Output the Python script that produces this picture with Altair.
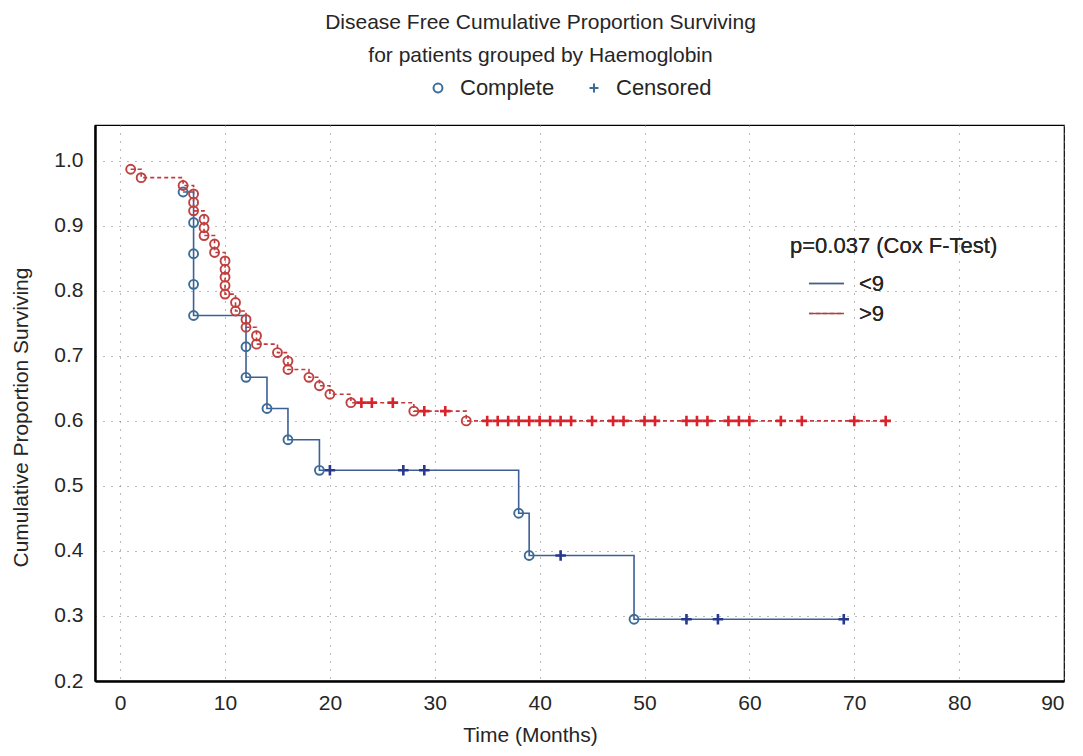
import pandas as pd
import altair as alt

# Survival values (Kaplan-Meier, disease free)
# >9 group: complete (event) times and proportion surviving after each event
HI_EVENT_T = [1, 2, 6, 7, 7, 7, 8, 8, 8, 9, 9, 10, 10, 10, 10, 10, 11, 11,
              12, 12, 13, 13, 15, 16, 16, 18, 19, 20, 22, 28, 33]
HI_EVENT_S = [0.987, 0.974, 0.962, 0.949, 0.936, 0.923, 0.910, 0.897, 0.885,
              0.872, 0.859, 0.846, 0.833, 0.821, 0.808, 0.795, 0.782, 0.769,
              0.756, 0.744, 0.731, 0.718, 0.705, 0.692, 0.679, 0.667, 0.654,
              0.641, 0.628, 0.615, 0.600]
# >9 group: censored times
HI_CENS_T = [23, 24, 26, 29, 31, 35, 36, 37, 38, 39, 40, 41, 42, 43, 45, 47,
             48, 50, 51, 54, 55, 56, 58, 59, 60, 63, 65, 70, 73]
HI_CENS_S = [0.628, 0.628, 0.628, 0.615, 0.615] + [0.600] * 24

# <9 group
LO_EVENT_T = [6, 7, 7, 7, 7, 12, 12, 14, 16, 19, 38, 39, 49]
LO_EVENT_S = [0.952, 0.905, 0.857, 0.810, 0.762, 0.714, 0.667, 0.619, 0.571,
              0.524, 0.458, 0.393, 0.295]
LO_CENS_T = [20, 27, 29, 42, 54, 57, 69]
LO_CENS_S = [0.524, 0.524, 0.524, 0.393, 0.295, 0.295, 0.295]

GROUPS = ['<9', '>9']
X_TICKS = [0, 10, 20, 30, 40, 50, 60, 70, 80, 90]
Y_TICKS = [0.2, 0.3, 0.4, 0.5, 0.6, 0.7, 0.8, 0.9, 1.0]

BLUE_LINE = '#3d5f96'
RED_LINE = '#c4393c'
MARK_COLORS = {
    '<9 Complete': '#3b6c98',
    '<9 Censored': '#26398c',
    '>9 Complete': '#c0403f',
    '>9 Censored': '#d8232b',
}
PLUS = 'M-1,0H1M0,-1V1'
FONT = 'Liberation Sans'
TEXT = '#262626'


def build_frame():
    """Stack events and censored points of both groups in one table."""
    parts = []
    for grp, et, es, ct, cs in [('<9', LO_EVENT_T, LO_EVENT_S, LO_CENS_T, LO_CENS_S),
                                ('>9', HI_EVENT_T, HI_EVENT_S, HI_CENS_T, HI_CENS_S)]:
        ev = pd.DataFrame({'time': et, 'surv': es, 'status': 'Complete'})
        ce = pd.DataFrame({'time': ct, 'surv': cs, 'status': 'Censored'})
        d = pd.concat([ev, ce]).sort_values(['time', 'surv'], ascending=[True, False])
        d['group'] = grp
        d['seq'] = range(len(d))
        parts.append(d)
    df = pd.concat(parts, ignore_index=True)
    df['key'] = df['group'] + ' ' + df['status']
    return df


df = build_frame()

x_enc = alt.X('time:Q', title='Time (Months)',
              scale=alt.Scale(domain=[-2.4, 90], nice=False, zero=False),
              axis=alt.Axis(values=X_TICKS, labelPadding=11, titleX=435, titleY=54,
                            titleBaseline='middle'))
y_enc = alt.Y('surv:Q', title='Cumulative Proportion Surviving',
              scale=alt.Scale(domain=[0.2, 1.055], nice=False, zero=False),
              axis=alt.Axis(values=Y_TICKS, format='.1f', labelPadding=12,
                            titleX=-74, titleY=292, titleBaseline='middle'))

group_legend = alt.Legend(title='p=0.037 (Cox F-Test)', orient='none',
                          legendX=695, legendY=111, symbolType='stroke',
                          symbolSize=1225, symbolStrokeWidth=1.6, symbolOffset=18,
                          labelOffset=14, rowPadding=-2, titlePadding=7,
                          titleLimit=400, titleFontSize=22, labelFontSize=22,
                          padding=0)

lines = alt.Chart(df).mark_line(interpolate='step-after', strokeWidth=1.6).encode(
    x=x_enc,
    y=y_enc,
    order='seq:Q',
    color=alt.Color('group:N', scale=alt.Scale(domain=GROUPS, range=[BLUE_LINE, RED_LINE]),
                    legend=group_legend),
    strokeDash=alt.StrokeDash('group:N', scale=alt.Scale(domain=GROUPS, range=[[1, 0], [4, 3]]),
                              legend=group_legend),
)

shape_legend = alt.Legend(title=None, orient='none', direction='horizontal',
                          legendX=332, legendY=-48, symbolSize=80,
                          symbolStrokeColor='#3b6c98', symbolStrokeWidth=2,
                          symbolFillColor='transparent', labelOffset=11,
                          columnPadding=28, labelFontSize=22, padding=0)

shape_scale = alt.Scale(domain=['Complete', 'Censored'], range=['circle', PLUS])
stroke_scale = alt.Scale(domain=list(MARK_COLORS.keys()), range=list(MARK_COLORS.values()))

circles = alt.Chart(df).transform_filter(alt.datum.status == 'Complete').mark_point(
    filled=False, size=80, strokeWidth=1.9, opacity=1).encode(
    x='time:Q',
    y='surv:Q',
    shape=alt.Shape('status:N', scale=shape_scale, legend=shape_legend),
    stroke=alt.Stroke('key:N', scale=stroke_scale, legend=None),
)

pluses = alt.Chart(df).transform_filter(alt.datum.status == 'Censored').mark_point(
    filled=False, size=110, strokeWidth=2.6, opacity=1).encode(
    x='time:Q',
    y='surv:Q',
    shape=alt.Shape('status:N', scale=shape_scale, legend=shape_legend),
    stroke=alt.Stroke('key:N', scale=stroke_scale, legend=None),
)

chart = alt.layer(lines, circles, pluses).resolve_scale(
    color='independent', stroke='independent'
).properties(
    width=969,
    height=556,
    autosize=alt.AutoSizeParams(type='none'),
    padding={'left': 87, 'top': 117, 'right': 11, 'bottom': 67},
    title=alt.Title(['Disease Free Cumulative Proportion Surviving',
                     'for patients grouped by Haemoglobin'],
                    fontSize=21, fontWeight='normal', font=FONT, color=TEXT,
                    anchor='middle', frame='group', dx=-39, lineHeight=33, offset=11),
).configure(
    font=FONT,
).configure_view(
    stroke='black', strokeWidth=1.2,
).configure_axis(
    domainColor='black', domainWidth=2.5, ticks=False,
    grid=True, gridColor='#777777', gridDash=[1, 7], gridWidth=1,
    labelFont=FONT, labelFontSize=21, labelColor=TEXT,
    titleFont=FONT, titleFontSize=21, titleFontWeight='normal', titleColor=TEXT,
).configure_legend(
    labelFont=FONT, labelColor=TEXT, titleFont=FONT, titleColor=TEXT,
    titleFontWeight='normal',
)

chart.save('out.html', embed_options={'renderer': 'svg', 'actions': False})
